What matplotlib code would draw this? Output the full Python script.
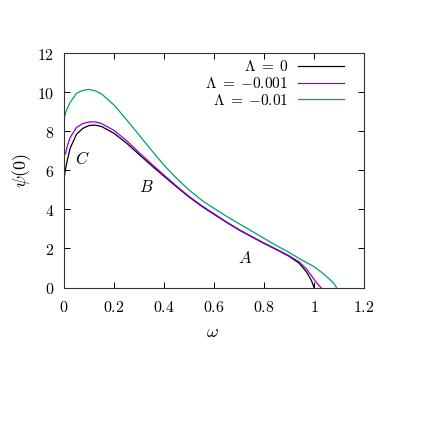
import matplotlib
matplotlib.use("Agg")
import matplotlib.pyplot as plt

plt.rcParams['mathtext.fontset'] = 'cm'
plt.rcParams['font.family'] = 'serif'
plt.rcParams['font.serif'] = ['DejaVu Serif']

# Data
omega_0 = [0.0, 0.005, 0.012, 0.025, 0.05, 0.075, 0.1, 0.125, 0.15, 0.2, 0.25, 0.3, 0.35,
           0.4, 0.45, 0.5, 0.55, 0.6, 0.65, 0.7, 0.75, 0.8, 0.85, 0.9, 0.94, 0.97, 0.99, 1.0]
psi_0 = [5.55, 6.0, 6.45, 7.15, 7.85, 8.15, 8.3, 8.32, 8.25, 7.9, 7.4, 6.82, 6.25,
         5.7, 5.16, 4.64, 4.17, 3.75, 3.34, 2.95, 2.6, 2.26, 1.94, 1.6, 1.25, 0.8, 0.35, 0.0]

omega_1 = [0.006, 0.012, 0.025, 0.05, 0.075, 0.1, 0.125, 0.15, 0.2, 0.25, 0.3, 0.35,
           0.4, 0.45, 0.5, 0.55, 0.6, 0.65, 0.7, 0.75, 0.8, 0.85, 0.9, 0.94, 0.97, 0.99, 1.01, 1.028]
psi_1 = [6.85, 7.2, 7.7, 8.2, 8.4, 8.48, 8.49, 8.4, 8.05, 7.53, 6.92, 6.33,
         5.76, 5.2, 4.67, 4.2, 3.78, 3.36, 2.97, 2.62, 2.28, 1.96, 1.63, 1.32, 0.95, 0.6, 0.25, 0.0]

omega_2 = [0.0, 0.01, 0.025, 0.05, 0.075, 0.1, 0.125, 0.15, 0.2, 0.25, 0.3, 0.35, 0.4,
           0.45, 0.5, 0.55, 0.6, 0.65, 0.7, 0.75, 0.8, 0.85, 0.9, 0.95, 1.0, 1.03, 1.06, 1.08, 1.09]
psi_2 = [8.65, 9.1, 9.5, 9.95, 10.1, 10.15, 10.08, 9.92, 9.35, 8.6, 7.82, 7.03, 6.27,
         5.6, 5.0, 4.48, 4.05, 3.65, 3.27, 2.9, 2.52, 2.15, 1.8, 1.42, 1.07, 0.78, 0.45, 0.2, 0.0]

labels = [r'$\Lambda \;=\; 0$', r'$\Lambda \;=\; {-0.001}$', r'$\Lambda \;=\; {-0.01}$']
colors = ['#000000', '#9400d3', '#009e73']

xticks = [0, 0.2, 0.4, 0.6, 0.8, 1.0, 1.2]
xticklabels = ['0', '0.2', '0.4', '0.6', '0.8', '1', '1.2']
yticks = [0, 2, 4, 6, 8, 10, 12]
yticklabels = ['0', '2', '4', '6', '8', '10', '12']

region_text = ['A', 'B', 'C']
region_x = [0.724, 0.328, 0.075]
region_y = [1.5, 5.1, 6.54]

fig = plt.figure(figsize=(4.37, 4.37), dpi=100)
ax = fig.add_axes([64/437, 1-287.5/437, 300/437, 234.2/437])

for om, ps, lab, c in zip([omega_0, omega_1, omega_2], [psi_0, psi_1, psi_2], labels, colors):
    ax.plot(om, ps, color=c, lw=0.9, label=lab)

ax.set_xlim(0, 1.2)
ax.set_ylim(0, 12)
ax.set_xticks(xticks)
ax.set_xticklabels(['$' + t + '$' for t in xticklabels], fontsize=11.5)
ax.set_yticks(yticks)
ax.set_yticklabels(['$' + t + '$' for t in yticklabels], fontsize=11.5)
ax.tick_params(direction='in', top=True, right=True, length=4, width=0.7, pad=7, colors='black')
ax.tick_params(axis='x', pad=8)
for s in ax.spines.values():
    s.set_linewidth(0.8)
    s.set_color('#333333')

for t, x, y in zip(region_text, region_x, region_y):
    ax.text(x, y, '$' + t + '$', fontsize=12, ha='center', va='center')

leg = ax.legend(loc='upper right', bbox_to_anchor=(0.933, 0.975), markerfirst=False, frameon=False,
                fontsize=11, handlelength=3.0, handletextpad=0.65, labelspacing=0.12, borderaxespad=0,
                borderpad=0)

fig.text(212/437, 1-332/437, r'$\omega$', fontsize=13, ha='center', va='center')
fig.text(22/437, 1-170/437, r'$\psi(0)$', fontsize=13, ha='center', va='center', rotation=90)

fig.savefig('out.png', dpi=100)
